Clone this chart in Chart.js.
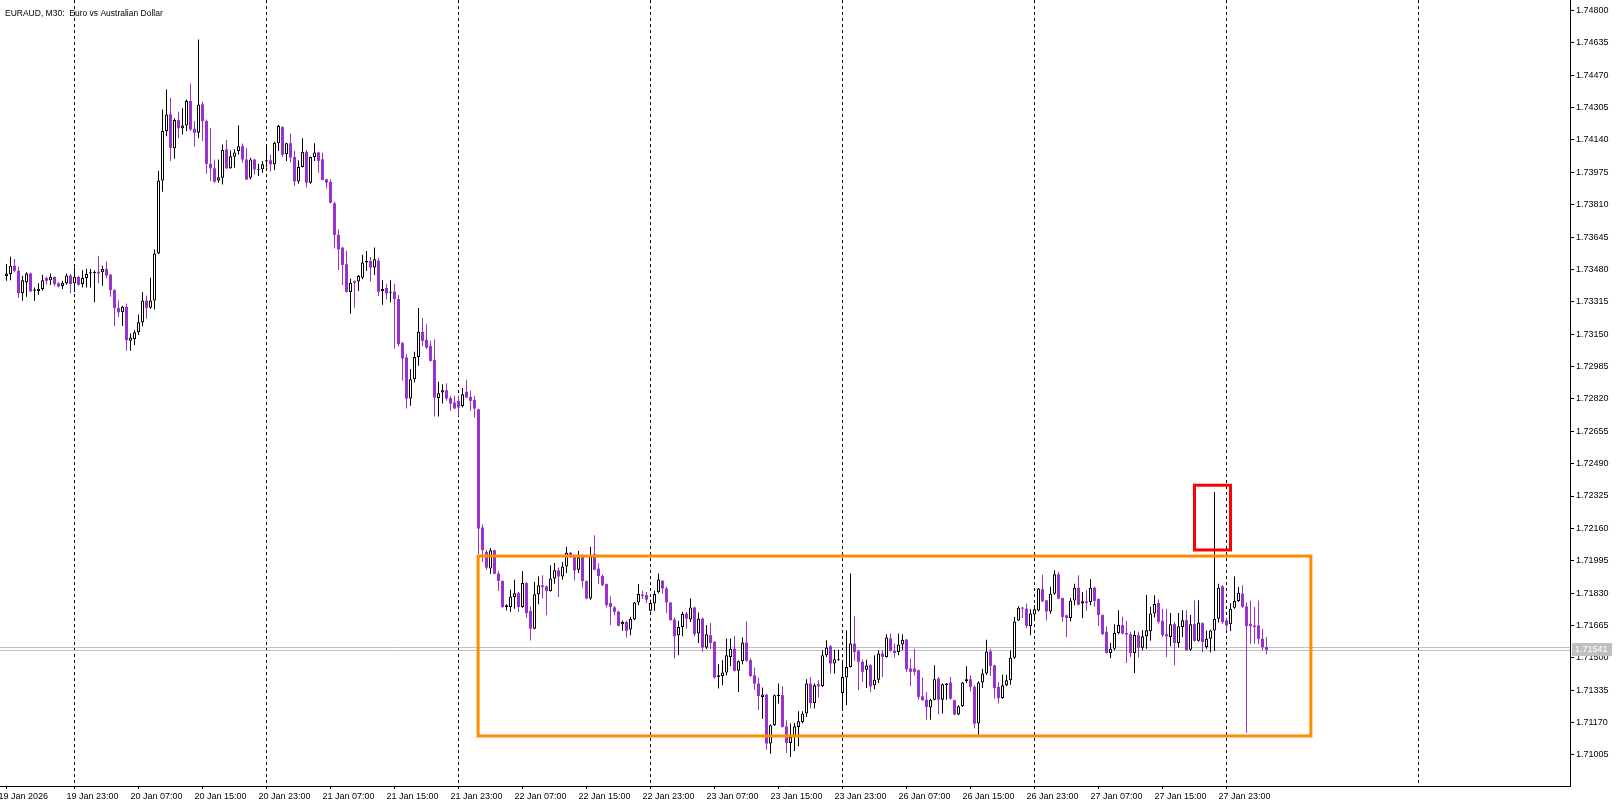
<!DOCTYPE html>
<html>
<head>
<meta charset="utf-8">
<title>EURAUD, M30</title>
<script src="https://cdn.jsdelivr.net/npm/chart.js@4.4.1/dist/chart.umd.min.js"></script>
<style>
  html, body { margin: 0; padding: 0; background: #fff; }
  #wrap { position: relative; width: 1623px; height: 807px; }
</style>
</head>
<body>
<div id="wrap"><canvas id="chart" width="1623" height="807"></canvas></div>
<script>
// EURAUD M30, first bar 19 Jan 14:30, last bar 28 Jan 04:00
const symbolTitle = 'EURAUD, M30:  Euro vs Australian Dollar';

const openPrices = [
  1.73446, 1.73456, 1.73499, 1.73473, 1.73358, 1.73414, 1.73459, 1.73371, 1.73368, 1.73380,
  1.73436, 1.73425, 1.73442, 1.73409, 1.73395, 1.73409, 1.73449, 1.73409, 1.73442, 1.73405,
  1.73436, 1.73459, 1.73461, 1.73468, 1.73465, 1.73483, 1.73453, 1.73374, 1.73283, 1.73261,
  1.73289, 1.73116, 1.73125, 1.73160, 1.73210, 1.73321, 1.73284, 1.73321, 1.73561, 1.73933,
  1.74185, 1.74270, 1.74097, 1.74241, 1.74199, 1.74214, 1.74338, 1.74197, 1.74176, 1.74321,
  1.74236, 1.74018, 1.73995, 1.73933, 1.73947, 1.74092, 1.73995, 1.74054, 1.74083, 1.74108,
  1.74040, 1.73947, 1.74040, 1.73985, 1.73990, 1.74030, 1.74036, 1.74016, 1.74123, 1.74206,
  1.74067, 1.74123, 1.74053, 1.73928, 1.74002, 1.74079, 1.73922, 1.74053, 1.74076, 1.74041,
  1.73939, 1.73926, 1.73817, 1.73656, 1.73591, 1.73506, 1.73365, 1.73421, 1.73418, 1.73438,
  1.73515, 1.73523, 1.73489, 1.73524, 1.73368, 1.73385, 1.73361, 1.73366, 1.73329, 1.73104,
  1.73031, 1.72822, 1.72920, 1.73034, 1.73162, 1.73121, 1.73090, 1.73019, 1.72824, 1.72853,
  1.72864, 1.72824, 1.72801, 1.72810, 1.72784, 1.72856, 1.72830, 1.72815, 1.72767, 1.72164,
  1.72040, 1.71955, 1.72048, 1.71929, 1.71892, 1.71759, 1.71759, 1.71810, 1.71830, 1.71759,
  1.71881, 1.71739, 1.71649, 1.71824, 1.71870, 1.71864, 1.71841, 1.71904, 1.71946, 1.71915,
  1.71966, 1.72036, 1.72014, 1.71949, 1.72023, 1.71892, 1.71802, 1.72028, 1.71955, 1.71917,
  1.71876, 1.71780, 1.71757, 1.71735, 1.71672, 1.71683, 1.71644, 1.71697, 1.71782, 1.71823,
  1.71820, 1.71740, 1.71777, 1.71836, 1.71893, 1.71854, 1.71782, 1.71695, 1.71615, 1.71658,
  1.71726, 1.71695, 1.71757, 1.71624, 1.71700, 1.71553, 1.71616, 1.71582, 1.71403, 1.71408,
  1.71425, 1.71505, 1.71547, 1.71434, 1.71483, 1.71578, 1.71488, 1.71411, 1.71369, 1.71301,
  1.71313, 1.71063, 1.71157, 1.71306, 1.71310, 1.71151, 1.71066, 1.71097, 1.71148, 1.71173,
  1.71216, 1.71369, 1.71270, 1.71366, 1.71357, 1.71514, 1.71559, 1.71471, 1.71491, 1.71321,
  1.71400, 1.71454, 1.71573, 1.71536, 1.71480, 1.71440, 1.71463, 1.71360, 1.71389, 1.71522,
  1.71505, 1.71599, 1.71536, 1.71530, 1.71568, 1.71593, 1.71446, 1.71446, 1.71437, 1.71304,
  1.71287, 1.71247, 1.71287, 1.71394, 1.71287, 1.71360, 1.71374, 1.71284, 1.71211, 1.71253,
  1.71381, 1.71391, 1.71352, 1.71165, 1.71374, 1.71420, 1.71533, 1.71462, 1.71352, 1.71295,
  1.71360, 1.71386, 1.71501, 1.71691, 1.71756, 1.71751, 1.71663, 1.71721, 1.71742, 1.71850,
  1.71793, 1.71737, 1.71827, 1.71926, 1.71805, 1.71717, 1.71703, 1.71793, 1.71858, 1.71777,
  1.71788, 1.71785, 1.71858, 1.71800, 1.71718, 1.71633, 1.71525, 1.71547, 1.71627, 1.71667,
  1.71627, 1.71621, 1.71525, 1.71616, 1.71551, 1.71610, 1.71636, 1.71726, 1.71780, 1.71689,
  1.71621, 1.71607, 1.71672, 1.71576, 1.71658, 1.71692, 1.71542, 1.71672, 1.71587, 1.71677,
  1.71555, 1.71597, 1.71640, 1.71700, 1.71864, 1.71691, 1.71671, 1.71756, 1.71790, 1.71827,
  1.71762, 1.71674, 1.71665, 1.71665, 1.71597, 1.71555
];

const highPrices = [
  1.73507, 1.73544, 1.73533, 1.73493, 1.73448, 1.73465, 1.73463, 1.73388, 1.73409, 1.73453,
  1.73442, 1.73459, 1.73444, 1.73414, 1.73422, 1.73459, 1.73456, 1.73490, 1.73446, 1.73476,
  1.73483, 1.73482, 1.73476, 1.73549, 1.73499, 1.73521, 1.73456, 1.73380, 1.73323, 1.73295,
  1.73306, 1.73153, 1.73170, 1.73250, 1.73364, 1.73347, 1.73437, 1.73582, 1.73981, 1.74295,
  1.74397, 1.74355, 1.74250, 1.74284, 1.74301, 1.74346, 1.74426, 1.74236, 1.74652, 1.74335,
  1.74244, 1.74202, 1.74040, 1.74040, 1.74117, 1.74139, 1.74086, 1.74092, 1.74214, 1.74122,
  1.74097, 1.74049, 1.74043, 1.74019, 1.74033, 1.74104, 1.74064, 1.74130, 1.74217, 1.74210,
  1.74126, 1.74172, 1.74084, 1.74036, 1.74149, 1.74089, 1.74056, 1.74123, 1.74079, 1.74076,
  1.73942, 1.73939, 1.73826, 1.73685, 1.73596, 1.73574, 1.73433, 1.73424, 1.73452, 1.73554,
  1.73574, 1.73543, 1.73591, 1.73538, 1.73425, 1.73405, 1.73425, 1.73405, 1.73351, 1.73111,
  1.73048, 1.72972, 1.73060, 1.73283, 1.73232, 1.73201, 1.73116, 1.73124, 1.72907, 1.72895,
  1.72900, 1.72836, 1.72836, 1.72836, 1.72875, 1.72917, 1.72861, 1.72836, 1.72770, 1.72181,
  1.72051, 1.72060, 1.72051, 1.71943, 1.71895, 1.71773, 1.71847, 1.71898, 1.71836, 1.71941,
  1.71887, 1.71762, 1.71887, 1.71915, 1.71921, 1.71870, 1.71972, 1.71983, 1.71960, 1.71989,
  1.72065, 1.72040, 1.72017, 1.72045, 1.72028, 1.71895, 1.72065, 1.72125, 1.71982, 1.71925,
  1.71879, 1.71814, 1.71765, 1.71740, 1.71689, 1.71689, 1.71709, 1.71785, 1.71876, 1.71842,
  1.71836, 1.71797, 1.71842, 1.71930, 1.71896, 1.71862, 1.71785, 1.71706, 1.71689, 1.71735,
  1.71735, 1.71802, 1.71760, 1.71731, 1.71706, 1.71667, 1.71678, 1.71585, 1.71468, 1.71488,
  1.71599, 1.71599, 1.71610, 1.71486, 1.71604, 1.71687, 1.71497, 1.71451, 1.71400, 1.71349,
  1.71316, 1.71160, 1.71313, 1.71369, 1.71355, 1.71182, 1.71165, 1.71168, 1.71228, 1.71228,
  1.71391, 1.71403, 1.71369, 1.71386, 1.71539, 1.71590, 1.71565, 1.71542, 1.71542, 1.71488,
  1.71641, 1.71930, 1.71712, 1.71542, 1.71491, 1.71491, 1.71468, 1.71514, 1.71539, 1.71539,
  1.71621, 1.71624, 1.71573, 1.71624, 1.71621, 1.71596, 1.71497, 1.71547, 1.71440, 1.71400,
  1.71326, 1.71292, 1.71463, 1.71403, 1.71369, 1.71372, 1.71403, 1.71287, 1.71259, 1.71377,
  1.71457, 1.71412, 1.71360, 1.71381, 1.71445, 1.71593, 1.71547, 1.71465, 1.71377, 1.71414,
  1.71414, 1.71538, 1.71708, 1.71763, 1.71759, 1.71777, 1.71748, 1.71768, 1.71856, 1.71924,
  1.71796, 1.71862, 1.71947, 1.71938, 1.71808, 1.71720, 1.71805, 1.71878, 1.71921, 1.71836,
  1.71845, 1.71901, 1.71862, 1.71802, 1.71721, 1.71661, 1.71576, 1.71672, 1.71743, 1.71709,
  1.71689, 1.71633, 1.71638, 1.71633, 1.71641, 1.71820, 1.71760, 1.71819, 1.71797, 1.71751,
  1.71751, 1.71729, 1.71684, 1.71729, 1.71743, 1.71743, 1.71718, 1.71794, 1.71794, 1.71680,
  1.71640, 1.71643, 1.72346, 1.71878, 1.71870, 1.71700, 1.71779, 1.71915, 1.71861, 1.71870,
  1.71784, 1.71793, 1.71759, 1.71793, 1.71649, 1.71606
];

const lowPrices = [
  1.73422, 1.73425, 1.73465, 1.73334, 1.73320, 1.73340, 1.73363, 1.73320, 1.73351, 1.73371,
  1.73402, 1.73400, 1.73397, 1.73388, 1.73380, 1.73402, 1.73358, 1.73363, 1.73397, 1.73388,
  1.73388, 1.73388, 1.73312, 1.73409, 1.73397, 1.73436, 1.73340, 1.73192, 1.73238, 1.73192,
  1.73065, 1.73065, 1.73095, 1.73145, 1.73190, 1.73228, 1.73280, 1.73275, 1.73558, 1.73876,
  1.74159, 1.74032, 1.74044, 1.74148, 1.74168, 1.74185, 1.74185, 1.74105, 1.74148, 1.74134,
  1.73967, 1.73930, 1.73922, 1.73922, 1.73913, 1.73993, 1.73993, 1.73998, 1.74066, 1.74023,
  1.73935, 1.73938, 1.73964, 1.73956, 1.73973, 1.73999, 1.73979, 1.73987, 1.74084, 1.74053,
  1.74033, 1.74025, 1.73905, 1.73917, 1.73999, 1.73897, 1.73917, 1.74033, 1.73973, 1.73934,
  1.73894, 1.73817, 1.73586, 1.73477, 1.73401, 1.73362, 1.73254, 1.73285, 1.73370, 1.73430,
  1.73472, 1.73418, 1.73452, 1.73345, 1.73300, 1.73328, 1.73311, 1.73077, 1.73087, 1.72912,
  1.72771, 1.72785, 1.72904, 1.72989, 1.73090, 1.73074, 1.73009, 1.72730, 1.72730, 1.72796,
  1.72810, 1.72759, 1.72768, 1.72734, 1.72776, 1.72824, 1.72759, 1.72725, 1.72030, 1.71990,
  1.71949, 1.71929, 1.71926, 1.71841, 1.71756, 1.71742, 1.71734, 1.71751, 1.71734, 1.71756,
  1.71705, 1.71589, 1.71646, 1.71773, 1.71802, 1.71717, 1.71838, 1.71878, 1.71810, 1.71898,
  1.71932, 1.72011, 1.71895, 1.71932, 1.71858, 1.71799, 1.71796, 1.71946, 1.71877, 1.71865,
  1.71757, 1.71667, 1.71717, 1.71661, 1.71638, 1.71604, 1.71615, 1.71692, 1.71768, 1.71800,
  1.71780, 1.71737, 1.71740, 1.71828, 1.71828, 1.71729, 1.71689, 1.71497, 1.71514, 1.71610,
  1.71650, 1.71683, 1.71610, 1.71576, 1.71531, 1.71545, 1.71547, 1.71394, 1.71344, 1.71360,
  1.71412, 1.71457, 1.71431, 1.71326, 1.71468, 1.71480, 1.71403, 1.71338, 1.71233, 1.71190,
  1.71032, 1.71012, 1.71153, 1.71267, 1.71145, 1.71015, 1.70995, 1.71025, 1.71050, 1.71165,
  1.71199, 1.71242, 1.71242, 1.71298, 1.71352, 1.71505, 1.71420, 1.71420, 1.71485, 1.71242,
  1.71259, 1.71451, 1.71485, 1.71335, 1.71378, 1.71347, 1.71326, 1.71340, 1.71372, 1.71403,
  1.71502, 1.71533, 1.71502, 1.71514, 1.71539, 1.71429, 1.71355, 1.71412, 1.71287, 1.71281,
  1.71185, 1.71185, 1.71284, 1.71213, 1.71216, 1.71287, 1.71287, 1.71207, 1.71207, 1.71250,
  1.71372, 1.71330, 1.71140, 1.71108, 1.71346, 1.71414, 1.71408, 1.71292, 1.71267, 1.71292,
  1.71355, 1.71363, 1.71496, 1.71688, 1.71703, 1.71652, 1.71615, 1.71700, 1.71737, 1.71785,
  1.71691, 1.71725, 1.71822, 1.71799, 1.71686, 1.71607, 1.71686, 1.71768, 1.71768, 1.71703,
  1.71740, 1.71768, 1.71760, 1.71662, 1.71615, 1.71522, 1.71500, 1.71539, 1.71621, 1.71621,
  1.71474, 1.71505, 1.71423, 1.71502, 1.71539, 1.71547, 1.71587, 1.71706, 1.71675, 1.71607,
  1.71505, 1.71559, 1.71463, 1.71553, 1.71607, 1.71536, 1.71536, 1.71582, 1.71582, 1.71529,
  1.71547, 1.71529, 1.71535, 1.71680, 1.71674, 1.71640, 1.71637, 1.71751, 1.71785, 1.71756,
  1.71118, 1.71572, 1.71572, 1.71569, 1.71538, 1.71518
];

const closePrices = [
  1.73459, 1.73499, 1.73473, 1.73358, 1.73425, 1.73459, 1.73368, 1.73378, 1.73381, 1.73425,
  1.73422, 1.73442, 1.73405, 1.73393, 1.73412, 1.73449, 1.73405, 1.73442, 1.73402, 1.73436,
  1.73456, 1.73466, 1.73466, 1.73459, 1.73482, 1.73449, 1.73374, 1.73283, 1.73261, 1.73289,
  1.73119, 1.73133, 1.73160, 1.73210, 1.73321, 1.73284, 1.73321, 1.73561, 1.73933, 1.74185,
  1.74270, 1.74100, 1.74241, 1.74199, 1.74214, 1.74338, 1.74193, 1.74176, 1.74321, 1.74236,
  1.74018, 1.73995, 1.73927, 1.73950, 1.74088, 1.73995, 1.74057, 1.74076, 1.74108, 1.74040,
  1.73938, 1.74040, 1.73989, 1.73990, 1.74016, 1.74036, 1.74016, 1.74125, 1.74211, 1.74064,
  1.74123, 1.74050, 1.73928, 1.74002, 1.74079, 1.73922, 1.74053, 1.74076, 1.74033, 1.73936,
  1.73922, 1.73820, 1.73656, 1.73582, 1.73503, 1.73365, 1.73412, 1.73412, 1.73446, 1.73515,
  1.73523, 1.73489, 1.73532, 1.73366, 1.73380, 1.73357, 1.73362, 1.73329, 1.73099, 1.73026,
  1.72822, 1.72920, 1.73034, 1.73162, 1.73116, 1.73082, 1.73014, 1.72827, 1.72849, 1.72864,
  1.72822, 1.72796, 1.72771, 1.72776, 1.72844, 1.72827, 1.72810, 1.72771, 1.72159, 1.72050,
  1.71960, 1.72048, 1.71929, 1.71892, 1.71759, 1.71768, 1.71813, 1.71830, 1.71759, 1.71881,
  1.71728, 1.71649, 1.71824, 1.71870, 1.71861, 1.71841, 1.71904, 1.71946, 1.71915, 1.71966,
  1.72036, 1.72014, 1.71946, 1.72011, 1.71892, 1.71802, 1.72023, 1.71949, 1.71917, 1.71871,
  1.71769, 1.71760, 1.71735, 1.71663, 1.71683, 1.71638, 1.71700, 1.71782, 1.71825, 1.71816,
  1.71797, 1.71780, 1.71825, 1.71900, 1.71854, 1.71782, 1.71692, 1.71610, 1.71658, 1.71723,
  1.71700, 1.71757, 1.71621, 1.71700, 1.71553, 1.71621, 1.71576, 1.71400, 1.71411, 1.71425,
  1.71514, 1.71547, 1.71434, 1.71483, 1.71578, 1.71485, 1.71408, 1.71369, 1.71306, 1.71313,
  1.71063, 1.71157, 1.71310, 1.71310, 1.71148, 1.71066, 1.71097, 1.71151, 1.71177, 1.71216,
  1.71369, 1.71270, 1.71360, 1.71355, 1.71514, 1.71553, 1.71471, 1.71493, 1.71496, 1.71403,
  1.71454, 1.71573, 1.71530, 1.71480, 1.71429, 1.71461, 1.71355, 1.71389, 1.71522, 1.71505,
  1.71604, 1.71536, 1.71525, 1.71568, 1.71593, 1.71442, 1.71429, 1.71429, 1.71301, 1.71284,
  1.71250, 1.71287, 1.71391, 1.71287, 1.71366, 1.71369, 1.71292, 1.71211, 1.71253, 1.71374,
  1.71391, 1.71352, 1.71165, 1.71374, 1.71420, 1.71533, 1.71459, 1.71346, 1.71295, 1.71360,
  1.71386, 1.71501, 1.71686, 1.71756, 1.71751, 1.71663, 1.71726, 1.71748, 1.71853, 1.71788,
  1.71737, 1.71827, 1.71926, 1.71802, 1.71708, 1.71703, 1.71793, 1.71858, 1.71771, 1.71788,
  1.71780, 1.71858, 1.71790, 1.71718, 1.71621, 1.71525, 1.71547, 1.71627, 1.71667, 1.71624,
  1.71619, 1.71525, 1.71616, 1.71551, 1.71610, 1.71641, 1.71726, 1.71774, 1.71684, 1.71616,
  1.71610, 1.71672, 1.71576, 1.71661, 1.71692, 1.71539, 1.71672, 1.71587, 1.71680, 1.71581,
  1.71597, 1.71640, 1.71700, 1.71858, 1.71682, 1.71665, 1.71751, 1.71790, 1.71832, 1.71759,
  1.71662, 1.71662, 1.71657, 1.71597, 1.71555, 1.71541
];

// time scale: bar index of each label, every 16 bars (8 hours)
const timeTickBars = [0, 17, 33, 49, 65, 81, 97, 113, 129, 145, 161, 177, 193, 209, 225, 241, 257, 273, 289, 305];
const timeTickLabels = [
  '19 Jan 2026', '19 Jan 23:00', '20 Jan 07:00', '20 Jan 15:00', '20 Jan 23:00',
  '21 Jan 07:00', '21 Jan 15:00', '21 Jan 23:00', '22 Jan 07:00', '22 Jan 15:00',
  '22 Jan 23:00', '23 Jan 07:00', '23 Jan 15:00', '23 Jan 23:00', '26 Jan 07:00',
  '26 Jan 15:00', '26 Jan 23:00', '27 Jan 07:00', '27 Jan 15:00', '27 Jan 23:00'
];
// day separators (dashed grid), the last one lies in the empty right margin
const daySeparatorBars = [17, 65, 113, 161, 209, 257, 305, 353];

// price scale
const priceTicks = [];
for (let k = 0; k < 24; k++) priceTicks.push(+(1.71005 + k * 0.00165).toFixed(5));
const priceTop = 1.74853;
const priceBottom = 1.70847;
const bidPrice = 1.71541;
const askPrice = 1.71556;

// drawn boxes (bar index / price)
const rangeBox = { fromBar: 117.9, toBar: 326.1, high: 1.72019, low: 1.71102 };
const spikeBox = { fromBar: 297.0, toBar: 306.0, high: 1.72380, low: 1.72050 };

const BULL = '#000000';
const BEAR = '#9932cc';
const FONT = { family: '"Liberation Sans", Arial, sans-serif', size: 9 };

const isBull = i => closePrices[i] >= openPrices[i];

const overlay = {
  id: 'overlay',
  beforeDatasetsDraw(chart) {
    const { ctx, chartArea: a, scales: { y } } = chart;
    ctx.save();
    ctx.strokeStyle = '#c0c0c0';
    ctx.lineWidth = 1;
    [askPrice, bidPrice].forEach(p => {
      const py = Math.round(y.getPixelForValue(p)) + 0.5;
      ctx.beginPath();
      ctx.moveTo(a.left, py);
      ctx.lineTo(a.right, py);
      ctx.stroke();
    });
    ctx.restore();
  },
  afterDatasetsDraw(chart) {
    const { ctx, scales: { x, y } } = chart;
    const box = (b, color) => {
      const x1 = x.getPixelForValue(b.fromBar), x2 = x.getPixelForValue(b.toBar);
      const y1 = y.getPixelForValue(b.high), y2 = y.getPixelForValue(b.low);
      ctx.save();
      ctx.strokeStyle = color;
      ctx.lineWidth = 3;
      ctx.strokeRect(x1, y1, x2 - x1, y2 - y1);
      ctx.restore();
    };
    box(rangeBox, '#ff8c00');
    box(spikeBox, '#ff0000');
  },
  afterDraw(chart) {
    const { ctx, chartArea: a, scales: { y } } = chart;
    ctx.save();
    // current price tag
    const py = Math.round(y.getPixelForValue(bidPrice));
    ctx.fillStyle = '#c0c0c0';
    ctx.fillRect(a.right + 2, py - 7, 40, 13);
    ctx.fillStyle = '#ffffff';
    ctx.font = '9px "Liberation Sans", Arial, sans-serif';
    ctx.textBaseline = 'middle';
    ctx.fillText(bidPrice.toFixed(5), a.right + 5, py);
    // symbol caption
    ctx.fillStyle = '#000000';
    ctx.textBaseline = 'alphabetic';
    ctx.font = '8.5px "Liberation Sans", Arial, sans-serif';
    ctx.fillText(symbolTitle, 5, 16);
    ctx.restore();
  }
};

new Chart(document.getElementById('chart'), {
  type: 'bar',
  data: {
    datasets: [
      {
        label: 'body',
        data: openPrices.map((o, i) => ({ x: i, y: [o, closePrices[i]] })),
        backgroundColor: openPrices.map((o, i) => isBull(i) ? '#ffffff' : BEAR),
        borderColor: openPrices.map((o, i) => isBull(i) ? BULL : BEAR),
        borderWidth: openPrices.map((o, i) => isBull(i) ? 1 : 0),
        borderSkipped: false,
        barThickness: 3,
        minBarLength: 1,
        inflateAmount: 0,
        grouped: false
      },
      {
        label: 'wick',
        data: lowPrices.map((l, i) => ({ x: i, y: [l, highPrices[i]] })),
        backgroundColor: lowPrices.map((l, i) => isBull(i) ? BULL : BEAR),
        borderWidth: 0,
        barThickness: 1,
        minBarLength: 1,
        inflateAmount: 0,
        grouped: false
      }
    ]
  },
  options: {
    responsive: false,
    animation: false,
    devicePixelRatio: 1,
    layout: { padding: 0 },
    plugins: {
      legend: { display: false },
      tooltip: { enabled: false },
      title: { display: false }
    },
    scales: {
      x: {
        type: 'linear',
        position: 'bottom',
        min: -1.625,
        max: 390.875,
        offset: false,
        afterBuildTicks: scale => {
          scale.ticks = timeTickBars.concat([353]).map(v => ({ value: v }));
        },
        afterFit: scale => {
          scale.height = 21;
          scale.paddingLeft = 0;
          scale.paddingRight = 0;
        },
        grid: {
          offset: false,
          drawOnChartArea: true,
          color: c => (c.tick && daySeparatorBars.includes(c.tick.value)) ? '#000000' : 'rgba(0,0,0,0)',
          tickColor: c => (c.tick && c.tick.value === 353) ? 'rgba(0,0,0,0)' : '#000000',
          tickLength: 3,
          lineWidth: 1
        },
        border: { display: true, color: '#000000', width: 1, dash: [3, 3] },
        ticks: {
          color: '#000000',
          font: FONT,
          padding: 2,
          autoSkip: false,
          maxRotation: 0,
          align: 'start',
          labelOffset: c => (c.index === 0 ? -3 : -8),
          callback: v => {
            const k = timeTickBars.indexOf(v);
            return k >= 0 ? timeTickLabels[k] : '';
          }
        }
      },
      y: {
        type: 'linear',
        position: 'right',
        min: priceBottom,
        max: priceTop,
        afterBuildTicks: scale => {
          scale.ticks = priceTicks.map(v => ({ value: v }));
        },
        afterFit: scale => {
          scale.width = 53;
          scale.paddingTop = 0;
          scale.paddingBottom = 0;
        },
        grid: {
          drawOnChartArea: false,
          tickColor: '#000000',
          tickLength: 4
        },
        border: { display: true, color: '#000000', width: 1 },
        ticks: {
          color: '#000000',
          font: FONT,
          padding: 2,
          autoSkip: false,
          callback: v => v.toFixed(5)
        }
      }
    }
  },
  plugins: [overlay]
});
</script>
</body>
</html>
